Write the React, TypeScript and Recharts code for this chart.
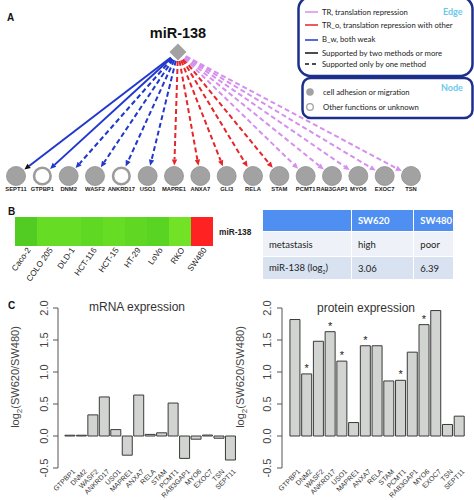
import {
  Bar,
  BarChart,
  Cell,
  LabelList,
  ReferenceLine,
  Scatter,
  ScatterChart,
  XAxis,
  YAxis,
} from "recharts";

// panel A: miR-138 target network
const genes = ["SEPT11", "GTPBP1", "DNM2", "WASF2", "ANKRD17", "USO1", "MAPRE1", "ANXA7", "GLI3", "RELA", "STAM", "PCMT1", "RAB3GAP1", "MYO6", "EXOC7", "TSN"];
const edgeKinds = ["B_w", "B_w", "B_w", "B_w", "B_w", "B_w", "TR_o", "TR_o", "TR_o", "TR_o", "TR_o", "TR", "TR", "TR", "TR", "TR"];
const edgeSupport = ["multi", "multi", "single", "single", "single", "single", "single", "single", "single", "single", "single", "single", "single", "single", "single", "single"];
const nodeRoles = ["adhesion", "other", "adhesion", "adhesion", "other", "adhesion", "adhesion", "adhesion", "adhesion", "adhesion", "adhesion", "adhesion", "adhesion", "adhesion", "adhesion", "adhesion"];
const hubX = 6.15;

// panel B
const cellLines = ["Caco-2", "COLO 205", "DLD-1", "HCT-116", "HCT-15", "HT-29", "LoVo", "RKO", "SW480"];
const heatColors = ["#52cc22", "#66dc24", "#66dc24", "#5fd823", "#66dc24", "#60d823", "#5ad422", "#72e226", "#ff2222"];

// panel C
const barGenes = ["GTPBP1", "DNM2", "WASF2", "ANKRD17", "USO1", "MAPRE1", "ANXA7", "RELA", "STAM", "PCMT1", "RAB3GAP1", "MYO6", "EXOC7", "TSN", "SEPT11"];
const mrnaValues = [0.012, 0.012, 0.33, 0.61, 0.1, -0.3, 0.64, 0.025, 0.05, 0.515, -0.35, -0.05, 0.015, -0.035, -0.375];
const proteinValues = [1.82, 0.97, 1.48, 1.63, 1.17, 0.21, 1.41, 1.41, 0.86, 0.87, 1.31, 1.74, 1.96, 0.18, 0.31];
const proteinStars = [false, true, false, true, true, false, true, false, false, true, false, true, false, false, false];
const yTicks = [-0.5, 0, 0.5, 1, 1.5, 2];

const edgeColors: Record<string, string> = { B_w: "#2238cc", TR_o: "#e5262b", TR: "#d590ee" };
const sans = "'Liberation Sans', Arial, sans-serif";
const calibri = "Lato, 'Open Sans', sans-serif";

const nodeData = genes.map((g, i) => ({ x: i, y: 0, name: g, role: nodeRoles[i] }));
const hubData = [{ x: hubX, y: 1 }];
const heatRow = cellLines.map((line, i) => ({ line, v: 1, fill: heatColors[i] }));
const mrnaData = barGenes.map((g, i) => ({ gene: g, v: mrnaValues[i] }));
const proteinData = barGenes.map((g, i) => ({ gene: g, v: proteinValues[i], star: proteinStars[i] ? "*" : "" }));

function edgeShape(color: string, dashed: boolean, headColor: string) {
  return (p: any) => {
    const { x1, y1, x2, y2 } = p;
    const dx = x2 - x1;
    const dy = y2 - y1;
    const len = Math.hypot(dx, dy) || 1;
    const ux = dx / len;
    const uy = dy / len;
    const sx = x1 + ux * 9;
    const sy = y1 + uy * 9;
    const ex = x2 - ux * 10.5;
    const ey = y2 - uy * 10.5;
    const bx = ex - ux * 6;
    const by = ey - uy * 6;
    const pts = `${ex},${ey} ${bx - uy * 2.7},${by + ux * 2.7} ${bx + uy * 2.7},${by - ux * 2.7}`;
    return (
      <g>
        <line x1={sx} y1={sy} x2={bx} y2={by} stroke={color} strokeWidth={2} strokeDasharray={dashed ? "5 3" : undefined} />
        <polygon points={pts} fill={headColor} />
      </g>
    );
  };
}

const NodeShape = (p: any) => {
  const { cx, cy, payload } = p;
  const open = payload.role === "other";
  return (
    <g>
      <circle cx={cx} cy={cy} r={open ? 8.3 : 9.5} fill={open ? "#fff" : "#a2a2a2"} stroke={open ? "#9c9c9c" : "#8f8f8f"} strokeWidth={open ? 2.6 : 0.8} />
      <text x={cx} y={cy + 14.5} textAnchor="middle" fontSize={5.8} fontWeight="bold" fill="#222" fontFamily={sans}>
        {payload.name}
      </text>
    </g>
  );
};

const HubShape = (p: any) => {
  const { cx, cy } = p;
  return (
    <g>
      <polygon points={`${cx},${cy - 8.5} ${cx + 8.5},${cy} ${cx},${cy + 8.5} ${cx - 8.5},${cy}`} fill="#a2a2a2" />
      <text x={cx} y={cy - 14} textAnchor="middle" fontSize={14.5} fontWeight="bold" fill="#111" fontFamily={sans}>
        miR-138
      </text>
    </g>
  );
};

const HeatTick = (p: any) => {
  const { x, y, payload } = p;
  const ax = x + 5;
  const ay = y + 4;
  return (
    <text x={ax} y={ay} textAnchor="end" fontSize={8.2} fill="#222" fontFamily={sans} transform={`rotate(-55, ${ax}, ${ay})`}>
      {payload.value}
    </text>
  );
};

const GeneTick = (p: any) => {
  const { x, y, payload } = p;
  const ax = x + 6;
  const ay = y + 4;
  return (
    <text x={ax} y={ay} textAnchor="end" fontSize={7} fill="#333" fontFamily={sans} transform={`rotate(-45, ${ax}, ${ay})`}>
      {payload.value}
    </text>
  );
};

const ValueTick = (p: any) => {
  const { x, y, payload } = p;
  return (
    <text x={x} y={y} textAnchor="middle" fontSize={11} fill="#444" fontFamily={sans} transform={`rotate(-90, ${x}, ${y})`}>
      {payload.value.toFixed(1)}
    </text>
  );
};

const StarLabel = (p: any) => {
  const { x, y, width, value } = p;
  if (!value) return null;
  return (
    <text x={x + width / 2} y={y - 2} textAnchor="middle" fontSize={11} fill="#222" fontFamily={sans}>
      {value}
    </text>
  );
};

function ExpressionChart({ data, left, yWidth, margin, padding, tickMargin, stars }: any) {
  return (
    <div style={{ position: "absolute", left, top: 290 }}>
      <BarChart width={237} height={210} data={data} margin={margin} barCategoryGap="8%">
        <XAxis dataKey="gene" interval={0} height={32} axisLine={false} tickLine={false} tickSize={0} tickMargin={0} padding={padding} tick={<GeneTick />} />
        <YAxis
          type="number"
          domain={[-0.5, 2]}
          ticks={yTicks}
          width={yWidth}
          tickSize={5}
          tickMargin={tickMargin}
          stroke="#555"
          tick={<ValueTick />}
        />
        <Bar dataKey="v" fill="#d2d4d1" stroke="#3a3a3a" strokeWidth={1} isAnimationActive={false}>
          {stars && <LabelList dataKey="star" content={<StarLabel />} />}
        </Bar>
      </BarChart>
    </div>
  );
}

export default function App() {
  return (
    <div style={{ position: "absolute", left: 0, top: 0, width: 474, height: 500, overflow: "hidden", background: "#fff", fontFamily: sans }}>
      {/* A: network */}
      <div style={{ position: "absolute", left: 0, top: 0 }}>
        <ScatterChart width={474} height={200} margin={{ top: 52, right: 63, bottom: 24, left: 16 }}>
          <XAxis type="number" dataKey="x" domain={[0, 15]} hide />
          <YAxis type="number" dataKey="y" domain={[0, 1]} hide />
          {genes.map((g, i) => (
            <ReferenceLine
              key={g}
              segment={[{ x: hubX, y: 1 }, { x: i, y: 0 }]}
              stroke={edgeColors[edgeKinds[i]]}
              shape={edgeShape(edgeColors[edgeKinds[i]], edgeSupport[i] === "single", i === 0 ? "#111" : edgeColors[edgeKinds[i]])}
            />
          ))}
          <Scatter data={nodeData} shape={<NodeShape />} isAnimationActive={false} />
          <Scatter data={hubData} shape={<HubShape />} isAnimationActive={false} />
        </ScatterChart>
      </div>

      {/* B: heatmap */}
      <div style={{ position: "absolute", left: 0, top: 200 }}>
        <BarChart width={240} height={90} data={heatRow} margin={{ top: 17, right: 27, bottom: 0, left: 15 }} barCategoryGap={0}>
          <XAxis dataKey="line" interval={0} height={44} axisLine={false} tickLine={false} tickSize={0} tickMargin={0} tick={<HeatTick />} />
          <YAxis type="number" domain={[0, 1]} hide />
          <Bar dataKey="v" isAnimationActive={false}>
            {heatRow.map((d) => (
              <Cell key={d.line} fill={d.fill} />
            ))}
          </Bar>
        </BarChart>
      </div>

      <table
        style={{
          position: "absolute",
          left: 262,
          top: 209,
          width: 192,
          borderCollapse: "collapse",
          fontFamily: calibri,
          fontSize: 9.5,
          color: "#222",
        }}
      >
        <tbody>
          <tr style={{ height: 22, background: "#4f8ff2", color: "#fff", fontWeight: "bold" }}>
            <td style={{ width: 87, border: "1.5px solid #fff" }}></td>
            <td style={{ width: 55, border: "1.5px solid #fff", paddingLeft: 6 }}>SW620</td>
            <td style={{ border: "1.5px solid #fff", paddingLeft: 6 }}>SW480</td>
          </tr>
          <tr style={{ height: 25, background: "#eef2f8" }}>
            <td style={{ border: "1.5px solid #fff", paddingLeft: 6 }}>metastasis</td>
            <td style={{ border: "1.5px solid #fff", paddingLeft: 6 }}>high</td>
            <td style={{ border: "1.5px solid #fff", paddingLeft: 6 }}>poor</td>
          </tr>
          <tr style={{ height: 23, background: "#d9e2f1" }}>
            <td style={{ border: "1.5px solid #fff", paddingLeft: 6 }}>
              miR-138 (log<sub style={{ fontSize: 5 }}>2</sub>)
            </td>
            <td style={{ border: "1.5px solid #fff", paddingLeft: 6 }}>3.06</td>
            <td style={{ border: "1.5px solid #fff", paddingLeft: 6 }}>6.39</td>
          </tr>
        </tbody>
      </table>

      {/* C: expression bars */}
      <ExpressionChart
        data={mrnaData}
        left={0}
        yWidth={58}
        margin={{ top: 18, right: 1, bottom: 0, left: 0 }}
        padding={{ left: 6, right: 0 }}
        tickMargin={5}
        stars={false}
      />
      <ExpressionChart
        data={proteinData}
        left={237}
        yWidth={45}
        margin={{ top: 18, right: 8, bottom: 0, left: 0 }}
        padding={{ left: 7, right: 1 }}
        tickMargin={6}
        stars={true}
      />

      {/* annotations and legend */}
      <svg width={474} height={500} style={{ position: "absolute", left: 0, top: 0, pointerEvents: "none" }}>
        <g fontFamily={sans} fontWeight="bold" fontSize={10} fill="#111">
          <text x={7} y={21}>A</text>
          <text x={8} y={215}>B</text>
          <text x={8} y={309}>C</text>
        </g>
        <text x={219} y={235} fontSize={8.3} fontWeight="bold" fontFamily={sans} fill="#222">miR-138</text>

        <text x={137} y={311} textAnchor="middle" fontSize={12} fontFamily={sans} fill="#333">mRNA expression</text>
        <text x={366} y={312} textAnchor="middle" fontSize={12} fontFamily={sans} fill="#333">protein expression</text>
        {[19, 244].map((x) => (
          <text key={x} x={x} y={377} textAnchor="middle" fontSize={11} fontFamily={sans} fill="#444" transform={`rotate(-90, ${x}, 377)`}>
            log<tspan fontSize={8} dy={3}>2</tspan>
            <tspan dy={-3}>(SW620/SW480)</tspan>
          </text>
        ))}

        {/* edge legend */}
        <rect x={298.5} y={-3} width={174} height={79} rx={12} fill="#fff" stroke="#1c2f8a" strokeWidth={2.5} />
        <g fontFamily={calibri} fontSize={7.7} fill="#222">
          <line x1={305} y1={12} x2={318} y2={12} stroke={edgeColors.TR} strokeWidth={1.5} />
          <text x={322} y={14.5}>TR, translation repression</text>
          <line x1={305} y1={25} x2={318} y2={25} stroke={edgeColors.TR_o} strokeWidth={1.5} />
          <text x={322} y={27.5}>TR_o, translation repression with other</text>
          <line x1={305} y1={40} x2={318} y2={40} stroke={edgeColors.B_w} strokeWidth={1.5} />
          <text x={322} y={42}>B_w, both weak</text>
          <line x1={305} y1={53} x2={318} y2={53} stroke="#111" strokeWidth={1.5} />
          <text x={322} y={55.5}>Supported by two methods or more</text>
          <line x1={305} y1={64} x2={318} y2={64} stroke="#111" strokeWidth={1.5} strokeDasharray="4 3" />
          <text x={322} y={66.5}>Supported only by one method</text>
        </g>
        <text x={443} y={15} fontFamily={calibri} fontSize={9} fontWeight="bold" fill="#6cc8ea">Edge</text>

        {/* node legend */}
        <rect x={302.5} y={78} width={170} height={40} rx={8} fill="#fff" stroke="#1c2f8a" strokeWidth={2.5} />
        <circle cx={310} cy={92} r={3.8} fill="#a2a2a2" />
        <circle cx={310} cy={107} r={3.3} fill="#fff" stroke="#a2a2a2" strokeWidth={1.3} />
        <g fontFamily={calibri} fontSize={7.7} fill="#222">
          <text x={323} y={95}>cell adhesion or migration</text>
          <text x={323} y={110}>Other functions or unknown</text>
        </g>
        <text x={441} y={91} fontFamily={calibri} fontSize={9} fontWeight="bold" fill="#6cc8ea">Node</text>
      </svg>
    </div>
  );
}
